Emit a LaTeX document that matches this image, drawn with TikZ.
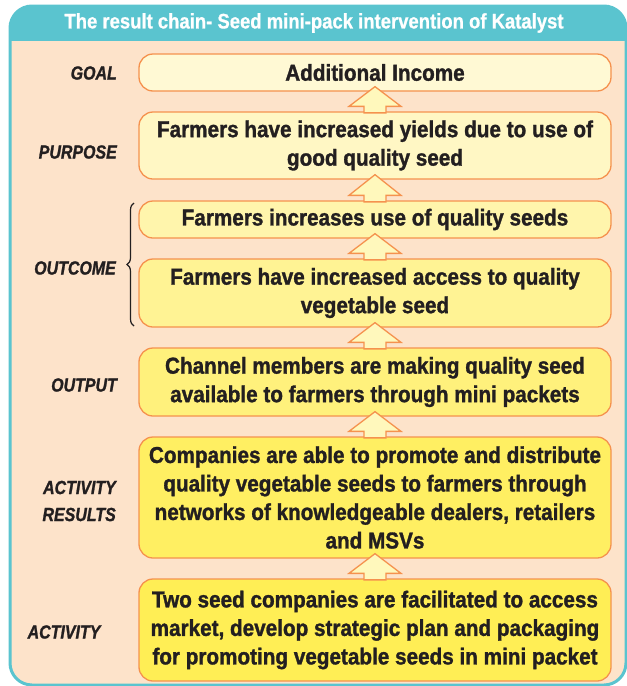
\documentclass[tikz,border=0pt]{standalone}
\usepackage{fontspec}
\newfontfamily\cond[FakeStretch=0.9,FakeBold=1.3]{Liberation Sans}
\newfontfamily\condT[FakeStretch=0.88,FakeBold=0.8]{Liberation Sans}
\newfontfamily\condL[FakeStretch=0.84,FakeBold=1.2]{Liberation Sans}
\usetikzlibrary{calc,decorations.pathreplacing}
\definecolor{peach}{HTML}{FDE3CA}
\definecolor{tealc}{HTML}{5AC4CF}
\definecolor{orng}{HTML}{F5924E}
\definecolor{txt}{HTML}{231F20}
\definecolor{yA}{HTML}{FFF9D4}
\definecolor{yB}{HTML}{FFF7C4}
\definecolor{yC}{HTML}{FFF5AC}
\definecolor{yD}{HTML}{FFF394}
\definecolor{yE}{HTML}{FFF17C}
\definecolor{yF}{HTML}{FFEF62}
\definecolor{yG}{HTML}{FFEE55}
\definecolor{arrf}{HTML}{FFF8BC}
\tikzset{
  rbox/.style={draw=orng, line width=1.3pt, rounded corners=14pt, minimum width=472pt,
    align=center, text=txt, inner sep=2pt,
    font=\cond\bfseries\fontsize{23}{28.5}\selectfont},
  lbl/.style={anchor=east, align=right, text=txt, inner sep=0pt,
    font=\condL\bfseries\itshape\fontsize{19}{27}\selectfont},
}
\newcommand{\blockarr}[2]{%
  \path let \p1=(#1.south), \p2=(#2.north) in
    [fill=arrf] (\x1,\y1+5pt) -- (\x1+26pt,\y2+5pt) -- (\x1+11pt,\y2+5pt) -- (\x1+11pt,\y2-1.5pt)
      -- (\x1-11pt,\y2-1.5pt) -- (\x1-11pt,\y2+5pt) -- (\x1-26pt,\y2+5pt) -- cycle
    [draw=orng, line width=1.3pt, line join=miter] (\x1-11pt,\y2) -- (\x1-11pt,\y2+5pt) -- (\x1-26pt,\y2+5pt)
      -- (\x1,\y1+5pt) -- (\x1+26pt,\y2+5pt) -- (\x1+11pt,\y2+5pt) -- (\x1+11pt,\y2);%
}
\begin{document}
\begin{tikzpicture}[x=1pt,y=-1pt]
\useasboundingbox (0,0) rectangle (627,686);
% frame
\fill[white] (0,0) rectangle (627,686);
\filldraw[fill=peach, draw=tealc, line width=3pt, rounded corners=22pt] (10,6) rectangle (626,685);
\begin{scope}
  \clip (0,0) rectangle (627,40);
  \fill[tealc, rounded corners=22pt] (10,6) rectangle (626,685);
\end{scope}
\node[text=white, font=\condT\bfseries\fontsize{21}{24}\selectfont] (title) at (314,23) {The result chain- Seed mini-pack intervention of Katalyst};
% boxes
\node[rbox, fill=yA, minimum height=37pt] (goal) at (375,72.5) {Additional Income};
\node[rbox, fill=yB, minimum height=67pt] (purpose) at (375,145.5) {Farmers have increased yields due to use of\\good quality seed};
\node[rbox, fill=yC, minimum height=37pt] (out1) at (375,219.5) {Farmers increases use of quality seeds};
\node[rbox, fill=yD, minimum height=68pt] (out2) at (375,293) {Farmers have increased access to quality\\vegetable seed};
\node[rbox, fill=yE, minimum height=68pt] (output) at (375,382) {Channel members are making quality seed\\available to farmers through mini packets};
\node[rbox, fill=yF, minimum height=121pt] (actres) at (375,497.5) {Companies are able to promote and distribute\\quality vegetable seeds to farmers through\\networks of knowledgeable dealers, retailers\\and MSVs};
\node[rbox, fill=yG, minimum height=102pt] (act) at (375,630) {Two seed companies are facilitated to access\\market, develop strategic plan and packaging\\for promoting vegetable seeds in mini packet};
% arrows
\blockarr{goal}{purpose}
\blockarr{purpose}{out1}
\blockarr{out1}{out2}
\blockarr{out2}{output}
\blockarr{output}{actres}
\blockarr{actres}{act}
% labels
\node[lbl] (lgoal) at (117,73) {GOAL};
\node[lbl] (lpurpose) at (117,152) {PURPOSE};
\node[lbl] (loutcome) at (116,268) {OUTCOME};
\node[lbl] (loutput) at (117,385) {OUTPUT};
\node[lbl] (lactres) at (116,501) {ACTIVITY\\RESULTS};
\node[lbl, anchor=center] (lact) at (64,632) {ACTIVITY};
% brace
\coordinate (bb) at (134,326);
\coordinate (bt) at (134,203);
\draw[txt, line width=1.2pt, decorate, decoration={brace, amplitude=7pt}] (bb) -- (bt);
\end{tikzpicture}
\end{document}
